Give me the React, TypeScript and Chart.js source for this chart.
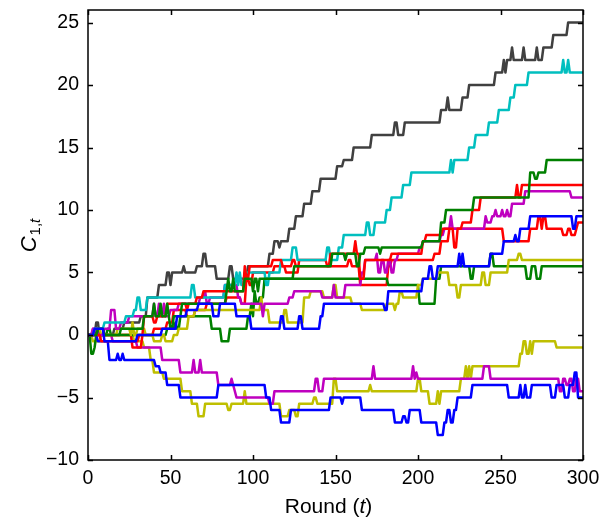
import React, { useEffect, useRef } from 'react';
import { Chart, registerables } from 'chart.js';

Chart.register(...registerables);

type Pt = [number, number];

const FONT = '"Liberation Sans", Arial, Helvetica, sans-serif';

const xTicks = [0, 50, 100, 150, 200, 250, 300];
const xTickLabels = ['0', '50', '100', '150', '200', '250', '300'];
const yTicks = [-10, -5, 0, 5, 10, 15, 20, 25];
const yTickLabels = ['\u221210', '\u22125', '0', '5', '10', '15', '20', '25'];
const xMin = 0;
const xMax = 300;
const yMin = -10;
const yMax = 26;

const xTitleParts = ['Round (', 't', ')'];
const yTitleMain = 'C';
const yTitleSub1 = '1,';
const yTitleSub2 = 't';

// each point: [round t, value reached at round t]; the value holds until the next point
const gray: Pt[] = [[0,0],[5,1],[7,0],[13,0],[16,0.5],[22,1],[32,1.5],[36,3],[43,4],[48,5],[50,4],[51,5],[58,5.5],[59,5],[66,5.5],[70,6.5],[72,5.5],[78,4.5],[86,5.5],[88,4.5],[97,5.5],[110,6.5],[113,7.5],[116,7],[117,7.5],[122,8.5],[126,9.5],[131,10.5],[136,11.5],[141,12.5],[151,13.5],[155,14],[161,15],[172,16],[186,17],[188,16],[192,17],[214,18],[218,19],[219,18],[227,19],[231,20],[247,21],[252,22],[253,21],[254,22],[257,23],[258,22],[264,23],[265,22],[272,23],[273,22],[276,23],[282,24],[291,25],[300,25]];
const cyan: Pt[] = [[0,0],[4,0.5],[10,1],[23,1.5],[28,2],[30,3],[32,2],[36,3],[63,4],[65,3],[83,4],[90,5],[91,4],[92,5],[93,4],[95,5],[108,4],[110,5],[117,6],[124,7],[127,6],[145,7],[147,6],[152,7],[155,8],[169,9],[171,8],[174,9],[181,10],[184,11],[191,12],[196,13],[220,14],[221,13],[222,14],[231,15],[235,16],[243,17],[249,18],[256,19],[259,20],[267,21],[288,22],[289,21],[291,22],[292,21],[300,21]];
const green1: Pt[] = [[0,0],[6,0.5],[10,0],[20,0.5],[34,1.5],[40,2.5],[41,1.5],[44,2.5],[45,1.5],[48,2.5],[49,1.5],[50,0.5],[52,1.5],[57,2.5],[84,3.5],[85,4.5],[86,3.5],[88,4.5],[89,3.5],[95,4.5],[100,3.5],[101,4.5],[103,3.5],[104,4.5],[125,5.5],[143,5.5],[148,6.5],[156,6],[157,6.5],[163,5.5],[165,6.5],[168,7],[177,6.5],[178,7],[203,7.5],[214,9],[217,10],[234,11],[268,13],[271,12.5],[273,13],[278,14],[300,14]];
const green2: Pt[] = [[0,0],[2,-1.5],[4,-1],[5,0],[12,0.5],[14,0],[48,0.5],[53,1],[54,0.5],[56,1.5],[75,0.5],[81,-0.5],[86,0.5],[97,1.5],[99,2.5],[100,1.5],[101,3.5],[102,2.5],[104,3],[107,4.5],[182,4],[201,2.5],[211,4.5],[214,5.5],[232,4.5],[234,5.5],[244,6.5],[246,5.5],[266,4.5],[269,5.5],[272,4.5],[275,5.5],[300,5.5]];
const red1: Pt[] = [[0,0],[8,-0.5],[31,0],[34,1.5],[40,1],[42,1.5],[48,2.5],[60,2],[61,2.5],[66,3],[70,3.5],[95,5.5],[96,4.5],[98,5.5],[112,6],[118,5.5],[124,6],[126,5.5],[147,6.5],[162,7.5],[163,6.5],[165,4.5],[168,6],[184,6.5],[203,7.5],[205,8],[215,8.5],[222,7],[224,8.5],[227,9],[233,10],[238,11],[260,12],[261,11],[263,12],[300,12]];
const red2: Pt[] = [[0,0],[5,0.5],[10,0],[27,-1],[33,0],[40,0.5],[48,1],[52,2],[60,1.5],[65,2],[72,2.5],[84,3],[93,2.5],[96,4.5],[98,4],[100,5],[113,5.5],[120,5],[128,6],[145,5.5],[158,6],[160,5.5],[165,4],[182,5.5],[184,6],[210,6.5],[214,7.5],[219,8.5],[252,7.5],[268,8.5],[273,9.5],[275,8.5],[276,9.5],[278,8.5],[288,8],[291,8.5],[293,8],[296,8.5],[297,9],[300,9]];
const magenta1: Pt[] = [[0,0],[3,0.5],[6,0],[10,0.5],[14,2],[17,0.5],[20,1],[25,1.5],[40,2.5],[41,1.5],[43,2.5],[44,1.5],[46,2.5],[47,1.5],[50,2],[55,2.5],[68,3],[71,3.5],[72,2.5],[74,3],[83,4],[91,3],[93,2.5],[104,2.5],[106,1.5],[107,2.5],[122,3],[125,3.5],[140,3.5],[142,3],[149,4],[150,3],[156,4],[166,5],[168,6],[175,6.5],[176,5],[178,6],[180,5],[182,6],[184,5],[186,6],[188,6.5],[201,7],[203,7.5],[214,8],[216,8.5],[220,9.5],[221,8.5],[241,9.5],[242,9],[245,9.5],[247,10],[248,9.5],[251,10],[252,9.5],[254,10],[255,9.5],[257,10.5],[265,11.5],[293,11],[300,11]];
const magenta2: Pt[] = [[0,0],[3,0.5],[6,0],[15,-0.5],[30,-1],[45,-2],[56,-3],[64,-2],[65,-3],[68,-2],[69,-3],[79,-4],[87,-3.5],[88,-4],[89,-4.5],[90,-5],[110,-5.5],[113,-4.5],[138,-3.5],[140,-4.5],[143,-3.5],[173,-2.5],[174,-3.5],[197,-2.5],[198,-3.5],[199,-3],[200,-3.5],[240,-2.5],[244,-3.5],[286,-4.5],[288,-3.5],[290,-4],[292,-3.5],[294,-4.5],[296,-3.5],[298,-4.5],[300,-4.5]];
const blue1: Pt[] = [[0,0],[4,0.5],[10,-0.5],[30,0],[45,0.5],[54,1.5],[60,2],[67,2.5],[76,1.5],[80,2.5],[90,1.5],[99,0.5],[117,1.5],[119,0.5],[128,1.5],[130,0.5],[141,1.5],[143,2.5],[180,2],[182,3.5],[203,4.5],[207,5.5],[209,4.5],[212,5.5],[225,6.5],[226,5.5],[227,6.5],[228,5.5],[244,6.5],[252,7.5],[259,8],[260,7.5],[262,8.5],[268,9.5],[294,8.5],[296,9.5],[300,9.5]];
const blue2: Pt[] = [[0,0],[6,-0.5],[13,-2],[18,-1.5],[19,-2],[21,-1.5],[22,-2],[41,-2.5],[44,-3],[48,-4],[56,-5],[79,-4],[108,-5],[111,-6],[117,-7],[123,-6],[147,-5],[154,-5.5],[155,-5],[166,-6],[186,-7],[191,-6.5],[193,-7],[195,-6],[202,-7],[212,-8],[216,-7],[218,-6],[220,-7],[222,-6],[224,-5],[233,-4],[255,-5],[262,-4],[263,-5],[265,-4],[266,-5],[269,-4],[281,-5],[284,-4],[289,-5],[292,-4],[295,-3],[297,-5],[300,-5]];
const olive1: Pt[] = [[0,0],[4,0.5],[8,0],[18,0.5],[26,0],[27,1],[28,0],[30,0.5],[35,0],[40,-0.5],[45,0],[47,-0.5],[52,0],[55,0.5],[61,1.5],[65,2],[105,3],[106,2],[110,1],[119,2],[121,1],[131,3],[135,3.5],[143,3],[149,4],[151,3],[160,2.5],[166,2],[181,2.5],[186,2],[187,2.5],[189,3.5],[191,3],[200,4],[203,4.5],[212,5],[219,4],[224,3],[226,4],[239,5],[241,4],[244,5],[255,6],[261,6.5],[263,6],[300,6]];
const olive2: Pt[] = [[0,0],[3,-0.5],[8,0],[28,-0.5],[34,-1],[38,-2],[40,-3],[46,-3.5],[57,-4.5],[63,-5.5],[67,-6.5],[71,-5.5],[85,-6],[87,-5.5],[95,-4.5],[96,-5.5],[117,-6.5],[122,-6],[126,-6.5],[128,-5.5],[137,-5],[139,-5.5],[149,-3.5],[151,-4.5],[171,-4],[172,-4.5],[200,-3.5],[202,-4.5],[207,-5.5],[212,-4.5],[213,-5.5],[214,-4.5],[226,-3.5],[229,-2.5],[230,-3.5],[231,-2.5],[232,-3.5],[233,-2.5],[262,-1.5],[264,-0.5],[266,-1.5],[268,-0.5],[269,-1.5],[270,-0.5],[284,-1],[300,-1]];

const seriesNames = ['blue1', 'green1', 'red1', 'cyan', 'magenta1', 'olive1', 'gray', 'blue2', 'green2', 'red2', 'magenta2', 'olive2'];
const seriesColors = ['#0000FF', '#008000', '#FF0000', '#00BFBF', '#BF00BF', '#BFBF00', '#404040', '#0000FF', '#008000', '#FF0000', '#BF00BF', '#BFBF00'];
const seriesData: Pt[][] = [blue1, green1, red1, cyan, magenta1, olive1, gray, blue2, green2, red2, magenta2, olive2];

// per-round polyline: a change to value v at round t is reached from round t-1
function toPath(steps: Pt[]) {
  const out: { x: number; y: number }[] = [{ x: steps[0][0], y: steps[0][1] }];
  for (let i = 1; i < steps.length; i++) {
    const [t, v] = steps[i];
    const prevT = steps[i - 1][0];
    const p = steps[i - 1][1];
    if (v === p) {
      out.push({ x: t, y: v });
      continue;
    }
    const from = Math.max(prevT, t - 1);
    if (from > prevT) out.push({ x: from, y: p });
    out.push({ x: t, y: v });
  }
  return out;
}

const TICK_LEN = 5;

const framePlugin = {
  id: 'matlabFrame',
  afterDraw(chart: any) {
    const { ctx, chartArea: a, scales } = chart;
    const xs = scales.x;
    const ys = scales.y;
    ctx.save();
    ctx.strokeStyle = '#000';
    ctx.lineWidth = 1.5;
    ctx.strokeRect(a.left, a.top, a.right - a.left, a.bottom - a.top);
    ctx.beginPath();
    for (const v of xTicks) {
      const px = Math.round(xs.getPixelForValue(v)) + 0.5;
      ctx.moveTo(px, a.bottom);
      ctx.lineTo(px, a.bottom - TICK_LEN);
      ctx.moveTo(px, a.top);
      ctx.lineTo(px, a.top + TICK_LEN);
    }
    for (const v of yTicks) {
      const py = Math.round(ys.getPixelForValue(v)) + 0.5;
      ctx.moveTo(a.left, py);
      ctx.lineTo(a.left + TICK_LEN, py);
      ctx.moveTo(a.right, py);
      ctx.lineTo(a.right - TICK_LEN, py);
    }
    ctx.stroke();

    // x title
    ctx.fillStyle = '#000';
    ctx.textBaseline = 'alphabetic';
    ctx.textAlign = 'left';
    const fonts = [`21px ${FONT}`, `italic 21px ${FONT}`, `21px ${FONT}`];
    let total = 0;
    const widths = xTitleParts.map((p, i) => {
      ctx.font = fonts[i];
      const w = ctx.measureText(p).width;
      total += w;
      return w;
    });
    let x = (a.left + a.right) / 2 - 7 - total / 2;
    xTitleParts.forEach((p, i) => {
      ctx.font = fonts[i];
      ctx.fillText(p, x, 513);
      x += widths[i];
    });

    // y title (rotated)
    ctx.save();
    ctx.translate(36, (a.top + a.bottom) / 2 + 1);
    ctx.rotate(-Math.PI / 2);
    ctx.font = `italic 22px ${FONT}`;
    const wC = ctx.measureText(yTitleMain).width;
    ctx.font = `15px ${FONT}`;
    const w1 = ctx.measureText(yTitleSub1).width;
    ctx.font = `italic 15px ${FONT}`;
    const w2 = ctx.measureText(yTitleSub2).width;
    let tx = -(wC + w1 + w2) / 2;
    ctx.font = `italic 22px ${FONT}`;
    ctx.fillText(yTitleMain, tx, 0);
    tx += wC + 1;
    ctx.font = `15px ${FONT}`;
    ctx.fillText(yTitleSub1, tx, 4);
    tx += w1;
    ctx.font = `italic 15px ${FONT}`;
    ctx.fillText(yTitleSub2, tx, 4);
    ctx.restore();

    ctx.restore();
  },
};

export default function App() {
  const ref = useRef<HTMLCanvasElement>(null);
  useEffect(() => {
    document.body.style.margin = '0';
    const chart = new Chart(ref.current as HTMLCanvasElement, {
      type: 'line',
      data: {
        datasets: seriesData.map((pts, i) => ({
          label: seriesNames[i],
          data: toPath(pts),
          borderColor: seriesColors[i],
          backgroundColor: seriesColors[i],
          borderWidth: 2.5,
          pointRadius: 0,
          tension: 0,
          fill: false,
          borderJoinStyle: 'round',
        })),
      },
      options: {
        animation: false,
        responsive: false,
        events: [],
        layout: { padding: { top: 10, right: 17, left: 0, bottom: 0 } },
        plugins: { legend: { display: false }, tooltip: { enabled: false } },
        scales: {
          x: {
            type: 'linear',
            min: xMin,
            max: xMax,
            grid: { display: false, drawTicks: false },
            border: { display: false },
            ticks: {
              padding: 7,
              color: '#000',
              autoSkip: false,
              maxRotation: 0,
              font: { size: 19.5, family: FONT },
              callback: (v: any) => {
                const i = xTicks.indexOf(Number(v));
                return i >= 0 ? xTickLabels[i] : '';
              },
            },
            afterBuildTicks: (s: any) => {
              s.ticks = xTicks.map((v) => ({ value: v }));
            },
            afterFit: (s: any) => {
              s.height = 64;
              s.paddingLeft = 0;
              s.paddingRight = 0;
            },
          },
          y: {
            type: 'linear',
            min: yMin,
            max: yMax,
            grid: { display: false, drawTicks: false },
            border: { display: false },
            ticks: {
              padding: 9,
              color: '#000',
              autoSkip: false,
              font: { size: 19.5, family: FONT },
              callback: (v: any) => {
                const i = yTicks.indexOf(Number(v));
                return i >= 0 ? yTickLabels[i] : '';
              },
            },
            afterBuildTicks: (s: any) => {
              s.ticks = yTicks.map((v) => ({ value: v }));
            },
            afterFit: (s: any) => {
              s.width = 88;
              s.paddingTop = 0;
              s.paddingBottom = 0;
            },
          },
        },
      },
      plugins: [framePlugin],
    } as any);
    return () => chart.destroy();
  }, []);
  return (
    <div style={{ position: 'absolute', left: 0, top: 0, width: 600, height: 524, background: '#fff' }}>
      <canvas ref={ref} width={600} height={524} />
    </div>
  );
}
